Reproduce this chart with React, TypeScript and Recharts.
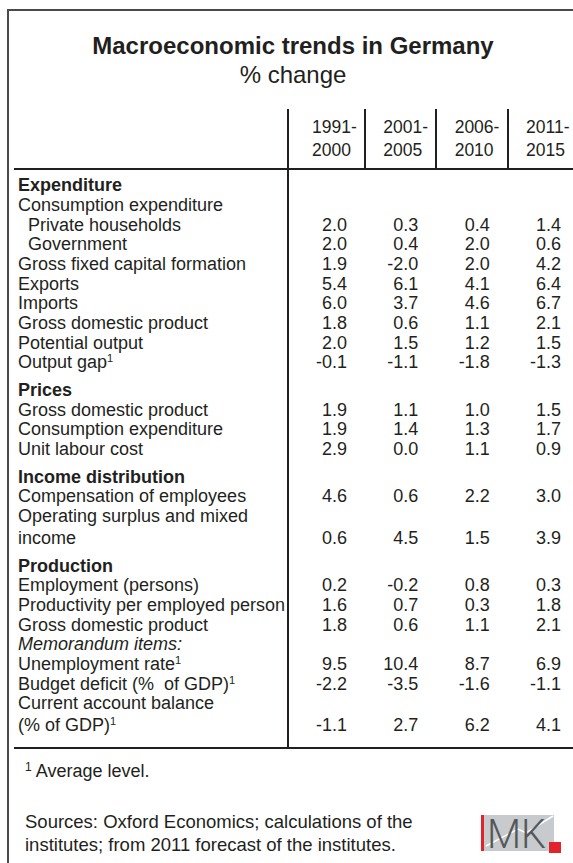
import React from "react";
import { ScatterChart, Scatter, XAxis, YAxis } from "recharts";

const FONT = '"Liberation Sans", Arial, Helvetica, sans-serif';
const INK = "#231f20";

// column headers (two lines each)
const periodStart = ["1991-", "2001-", "2006-", "2011-"];
const periodEnd = ["2000", "2005", "2010", "2015"];

// table rows, one entry per printed line
const rowLabels = [
  "Expenditure",
  "Consumption expenditure",
  "Private households",
  "Government",
  "Gross fixed capital formation",
  "Exports",
  "Imports",
  "Gross domestic product",
  "Potential output",
  "Output gap",
  "Prices",
  "Gross domestic product",
  "Consumption expenditure",
  "Unit labour cost",
  "Income distribution",
  "Compensation of employees",
  "Operating surplus and mixed",
  "income",
  "Production",
  "Employment (persons)",
  "Productivity per employed person",
  "Gross domestic product",
  "Memorandum items:",
  "Unemployment rate",
  "Budget deficit (%  of GDP)",
  "Current account balance",
  "(% of GDP)",
];

// head = bold section title, sub = indented, memo = italic, wrap = second line of a label
const rowKinds = [
  "head", "item", "sub", "sub", "item", "item", "item", "item", "item", "item",
  "head", "item", "item", "item",
  "head", "item", "item", "wrap",
  "head", "item", "item", "item", "memo", "item", "item", "item", "wrap",
];

// rows carrying footnote 1
const rowNote = [
  false, false, false, false, false, false, false, false, false, true,
  false, false, false, false,
  false, false, false, false,
  false, false, false, false, false, true, true, false, true,
];

const v1991_2000 = [null, null, 2.0, 2.0, 1.9, 5.4, 6.0, 1.8, 2.0, -0.1, null, 1.9, 1.9, 2.9, null, 4.6, null, 0.6, null, 0.2, 1.6, 1.8, null, 9.5, -2.2, null, -1.1];
const v2001_2005 = [null, null, 0.3, 0.4, -2.0, 6.1, 3.7, 0.6, 1.5, -1.1, null, 1.1, 1.4, 0.0, null, 0.6, null, 4.5, null, -0.2, 0.7, 0.6, null, 10.4, -3.5, null, 2.7];
const v2006_2010 = [null, null, 0.4, 2.0, 2.0, 4.1, 4.6, 1.1, 1.2, -1.8, null, 1.0, 1.3, 1.1, null, 2.2, null, 1.5, null, 0.8, 0.3, 1.1, null, 8.7, -1.6, null, 6.2];
const v2011_2015 = [null, null, 1.4, 0.6, 4.2, 6.4, 6.7, 2.1, 1.5, -1.3, null, 1.5, 1.7, 0.9, null, 3.0, null, 3.9, null, 0.3, 1.8, 2.1, null, 6.9, -1.1, null, 4.1];

const seriesValues = [v1991_2000, v2001_2005, v2006_2010, v2011_2015];

// vertical slot of each row: one unit per line, a bit more before sections and wrapped lines
const extraGap: Record<string, number> = { head: 0.4, wrap: 0.12 };
const rowSlots: number[] = [];
rowKinds.forEach((k, i) => {
  rowSlots.push(i === 0 ? 0 : rowSlots[i - 1] + 1 + (extraGap[k] || 0));
});
const lastSlot = rowSlots[rowSlots.length - 1];

const W = 573;
const H = 863;
const PLOT_TOP = 185;
const PLOT_BOTTOM = 725;
const PLOT_LEFT = 347;
const PLOT_RIGHT = 561;
const colX = (c: number) => PLOT_LEFT + ((c - 1) * (PLOT_RIGHT - PLOT_LEFT)) / 3;

const RowLabel = (props: any) => {
  const { y, payload } = props;
  const i = rowSlots.indexOf(payload.value);
  if (i < 0) return null;
  const kind = rowKinds[i];
  return (
    <text
      x={kind === "sub" ? 28 : 18}
      y={y}
      dy="0.35em"
      fill={INK}
      fontSize={18}
      fontFamily={FONT}
      fontWeight={kind === "head" ? "bold" : "normal"}
      fontStyle={kind === "memo" ? "italic" : "normal"}
      style={{ whiteSpace: "pre" }}
    >
      {rowLabels[i]}
      {rowNote[i] && (
        <tspan dy="-0.55em" fontSize={11}>
          1
        </tspan>
      )}
    </text>
  );
};

const PeriodTick = (props: any) => {
  const { x, y, payload } = props;
  const c = payload.value - 1;
  return (
    <g fill={INK} fontSize={17.5} fontFamily={FONT}>
      <text x={x - 35} y={y - 58} dy="0.35em" textAnchor="start">
        {periodStart[c]}
      </text>
      <text x={x - 35} y={y - 35} dy="0.35em" textAnchor="start">
        {periodEnd[c]}
      </text>
    </g>
  );
};

const ValueCell = (props: any) => {
  const { cx, cy, payload } = props;
  return (
    <text x={cx} y={cy} dy="0.35em" textAnchor="end" fill={INK} fontSize={18} fontFamily={FONT}>
      {payload.value.toFixed(1)}
    </text>
  );
};

const rule = (left: number, top: number, width: number, height: number, color = INK) => (
  <div style={{ position: "absolute", left, top, width, height, background: color }} />
);

export default function App() {
  const seriesData = seriesValues.map((vals, c) =>
    vals
      .map((v, i) => ({ col: c + 1, slot: rowSlots[i], value: v }))
      .filter((d) => d.value !== null)
  );

  return (
    <div
      style={{
        position: "fixed",
        left: 0,
        top: 0,
        width: W,
        height: H,
        overflow: "hidden",
        background: "#fff",
        fontFamily: FONT,
        color: INK,
      }}
    >
      {/* frame */}
      {rule(7, 9, 2, H - 9, "#4a4a4a")}
      {rule(7, 9, W - 7, 2, "#4a4a4a")}

      {/* title */}
      <div style={{ position: "absolute", left: 0, width: 586, top: 32, textAlign: "center", fontSize: 24, lineHeight: "28px", fontWeight: "bold" }}>
        Macroeconomic trends in Germany
      </div>
      <div style={{ position: "absolute", left: 0, width: 586, top: 61, textAlign: "center", fontSize: 24, lineHeight: "28px" }}>
        % change
      </div>

      {/* table rules */}
      {rule(287, 109, 2, 640)}
      {rule(14, 168, W - 14, 2)}
      {rule(14, 747, W - 14, 2)}
      {[1.25, 2.25, 3.25].map((c) => (
        <React.Fragment key={c}>{rule(Math.round(colX(c)) - 1, 109, 2, 60)}</React.Fragment>
      ))}

      <div style={{ position: "absolute", left: 0, top: 0 }}>
        <ScatterChart
          width={W}
          height={H}
          margin={{ top: 100, right: W - PLOT_RIGHT, bottom: H - PLOT_BOTTOM, left: 0 }}
        >
          <XAxis
            xAxisId={0}
            type="number"
            dataKey="col"
            orientation="top"
            domain={[1, 4]}
            ticks={[1, 2, 3, 4]}
            interval={0}
            height={PLOT_TOP - 100}
            axisLine={false}
            tickLine={false}
            tickSize={0}
            tickMargin={0}
            tick={<PeriodTick />}
          />
          <YAxis
            yAxisId={0}
            type="number"
            dataKey="slot"
            reversed
            domain={[0, lastSlot]}
            ticks={rowSlots}
            interval={0}
            width={PLOT_LEFT}
            axisLine={false}
            tickLine={false}
            tick={<RowLabel />}
          />
          {seriesData.map((data, c) => (
            <Scatter
              key={c}
              name={periodStart[c] + periodEnd[c]}
              data={data}
              shape={<ValueCell />}
              isAnimationActive={false}
            />
          ))}
        </ScatterChart>
      </div>

      {/* footnote and sources */}
      <div style={{ position: "absolute", left: 25, top: 761, fontSize: 18, lineHeight: "21px" }}>
        <span style={{ fontSize: 12, position: "relative", top: -6 }}>1</span> Average level.
      </div>
      <div style={{ position: "absolute", left: 25, top: 810, fontSize: 18.5, lineHeight: "23px" }}>
        Sources: Oxford Economics; calculations of the
        <br />
        institutes; from 2011 forecast of the institutes.
      </div>

      {/* IMK logo */}
      <svg style={{ position: "absolute", left: 478, top: 812 }} width={90} height={45}>
        <rect x={3} y={3} width={73} height={36} fill="#c8cbcd" />
        <polyline points="8,34 40,17 48,21 75,4" fill="none" stroke="#fff" strokeWidth={1.5} />
        <rect x={3} y={3} width={3} height={36} fill="#e3232b" />
        <text x={9} y={36} fontSize={40} fontFamily='Roboto, "Liberation Sans", sans-serif' fontWeight={300} fill="#55585a" textLength={59} lengthAdjust="spacingAndGlyphs">
          MK
        </text>
        <rect x={71} y={30} width={12} height={11} fill="#e3232b" />
      </svg>
    </div>
  );
}
